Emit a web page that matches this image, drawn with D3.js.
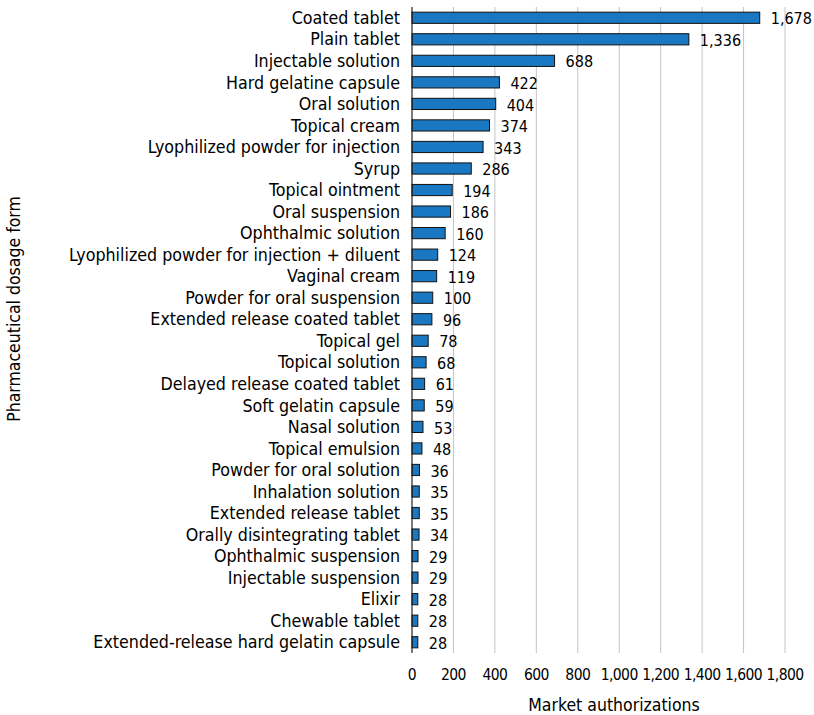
<!DOCTYPE html>
<html>
<head>
<meta charset="utf-8">
<script src="https://cdn.jsdelivr.net/npm/d3@7"></script>
<style>
  body { margin: 0; background: #fff; }
  text { font-family: "DejaVu Sans Condensed", "DejaVu Sans", sans-serif; fill: #000; }
</style>
</head>
<body>
<svg id="chart" width="814" height="715"></svg>
<script>
// categories and values
const forms = [
  "Coated tablet", "Plain tablet", "Injectable solution", "Hard gelatine capsule",
  "Oral solution", "Topical cream", "Lyophilized powder for injection", "Syrup",
  "Topical ointment", "Oral suspension", "Ophthalmic solution",
  "Lyophilized powder for injection + diluent", "Vaginal cream",
  "Powder for oral suspension", "Extended release coated tablet", "Topical gel",
  "Topical solution", "Delayed release coated tablet", "Soft gelatin capsule",
  "Nasal solution", "Topical emulsion", "Powder for oral solution",
  "Inhalation solution", "Extended release tablet", "Orally disintegrating tablet",
  "Ophthalmic suspension", "Injectable suspension", "Elixir", "Chewable tablet",
  "Extended-release hard gelatin capsule"
];
const counts = [1678, 1336, 688, 422, 404, 374, 343, 286, 194, 186, 160, 124, 119,
  100, 96, 78, 68, 61, 59, 53, 48, 36, 35, 35, 34, 29, 29, 28, 28, 28];
const xTicks = [0, 200, 400, 600, 800, 1000, 1200, 1400, 1600, 1800];

const data = forms.map((f, i) => ({ form: f, value: counts[i] }));

const svg = d3.select("#chart");
const plotLeft = 412, plotRight = 785, plotTop = 7, plotBottom = 653;

const x = d3.scaleLinear().domain([0, 1800]).range([plotLeft, plotRight]);
const y = d3.scaleBand().domain(forms).range([plotTop, plotBottom]).paddingInner(0.48).paddingOuter(0.24);

const fmt = d3.format(",");

// gridlines
svg.append("g").selectAll("line")
  .data(xTicks.slice(1))
  .enter().append("line")
  .attr("x1", d => x(d)).attr("x2", d => x(d))
  .attr("y1", plotTop).attr("y2", plotBottom)
  .attr("stroke", "#c4c4c4").attr("stroke-width", 1);

// bars
svg.append("g").selectAll("rect")
  .data(data)
  .enter().append("rect")
  .attr("x", x(0))
  .attr("y", d => y(d.form))
  .attr("width", d => x(d.value) - x(0))
  .attr("height", y.bandwidth())
  .attr("fill", "#1a78c2")
  .attr("stroke", "#111")
  .attr("stroke-width", 1);

// value labels
svg.append("g").selectAll("text")
  .data(data)
  .enter().append("text")
  .attr("x", d => x(d.value) + 11)
  .attr("y", d => y(d.form) + y.bandwidth() / 2 + 1)
  .attr("dy", "0.35em")
  .attr("font-size", 16)
  .text(d => fmt(d.value));

// y axis line
svg.append("line")
  .attr("x1", plotLeft).attr("x2", plotLeft)
  .attr("y1", plotTop).attr("y2", plotBottom)
  .attr("stroke", "#222").attr("stroke-width", 1.2);

// category labels
svg.append("g").selectAll("text")
  .data(forms)
  .enter().append("text")
  .attr("x", plotLeft - 12)
  .attr("y", d => y(d) + y.bandwidth() / 2)
  .attr("dy", "0.35em")
  .attr("text-anchor", "end")
  .attr("font-size", 17.7)
  .text(d => d);

// x tick labels
svg.append("g").selectAll("text")
  .data(xTicks)
  .enter().append("text")
  .attr("x", d => x(d))
  .attr("y", 675)
  .attr("dy", "0.35em")
  .attr("text-anchor", "middle")
  .attr("font-size", 15.5)
  .attr("letter-spacing", -0.6)
  .text(d => fmt(d));

// axis titles
svg.append("text")
  .attr("x", 614).attr("y", 705)
  .attr("dy", "0.35em")
  .attr("text-anchor", "middle")
  .attr("font-size", 17.5)
  .text("Market authorizations");

svg.append("text")
  .attr("transform", "translate(14,309) rotate(-90)")
  .attr("dy", "0.35em")
  .attr("text-anchor", "middle")
  .attr("font-size", 17.5)
  .text("Pharmaceutical dosage form");
</script>
</body>
</html>
